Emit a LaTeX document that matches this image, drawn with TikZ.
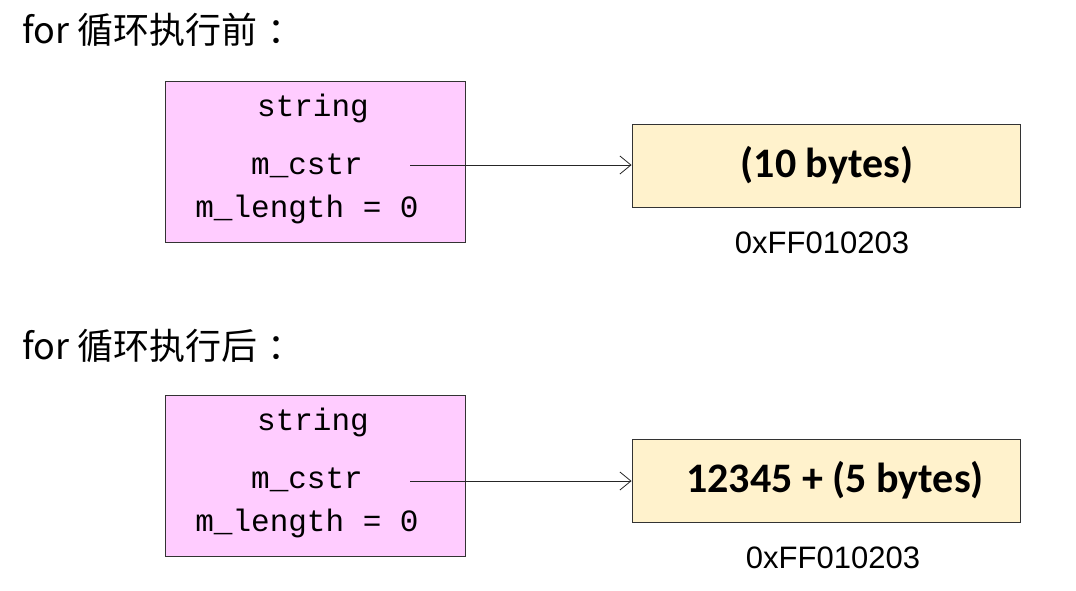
\documentclass[tikz,border=0pt]{standalone}
\usepackage{fontspec}
\setmainfont{Liberation Sans}
\setmonofont{Liberation Mono}
\newfontfamily\cjk{Noto Sans CJK SC}
\newfontfamily\boldsans{Carlito}
\usetikzlibrary{positioning,arrows.meta}

\definecolor{objpink}{HTML}{FFCCFF}
\definecolor{bufyellow}{HTML}{FFF2CC}

\tikzset{
  objbox/.style={draw=black!80, fill=objpink, line width=0.9pt, minimum width=300pt, minimum height=161pt},
  bufbox/.style={draw=black!80, fill=bufyellow, line width=0.9pt, minimum width=388pt, minimum height=83pt},
  member/.style={font=\fontsize{31}{31}\ttfamily, inner sep=0pt},
  buftext/.style={font=\fontsize{42}{42}\boldsans\bfseries, inner sep=0pt},
  addr/.style={font=\fontsize{31}{31}\selectfont, inner sep=0pt},
  heading/.style={font=\fontsize{36}{36}\cjk, inner sep=0pt, anchor=west},
  ptr/.style={-{Straight Barb[length=11pt, width=18pt, line width=0.8pt]}, line width=0.8pt, black!85}
}

\begin{document}
\begin{tikzpicture}[x=1pt, y=-1pt]

        % Frame
        \useasboundingbox[fill=white] (0,0) rectangle (1076,590);

        % Before the loop
        \node[heading] (head1) at (22,30) {for 循环执行前\kern10pt：};
        \node[objbox] (obj1) at (315,161.5) {};
        \node[member] (type1) at (313,108) {string};
        \node[member] (cstr1) at (307,166) {m\_cstr};
        \node[member] (len1) at (307,209) {m\_length = 0};
        \node[bufbox] (buf1) at (826,165.5) {};
        \node[buftext] (data1) at (827,165) {(10 bytes)};
        \node[addr] (addr1) at (822,243) {0xFF010203};
        \coordinate (from1) at (410,165);
        \draw[ptr] (from1) -- (buf1.west |- from1);

        % After the loop
        \node[heading] (head2) at (22,346) {for 循环执行后\kern10pt：};
        \node[objbox] (obj2) at (315,476) {};
        \node[member] (type2) at (313,422) {string};
        \node[member] (cstr2) at (307,480) {m\_cstr};
        \node[member] (len2) at (307,523) {m\_length = 0};
        \node[bufbox] (buf2) at (826,480.5) {};
        \node[buftext] (data2) at (835,480) {12345 + (5 bytes)};
        \node[addr] (addr2) at (833,558) {0xFF010203};
        \coordinate (from2) at (410,481);
        \draw[ptr] (from2) -- (buf2.west |- from2);

\end{tikzpicture}
\end{document}
